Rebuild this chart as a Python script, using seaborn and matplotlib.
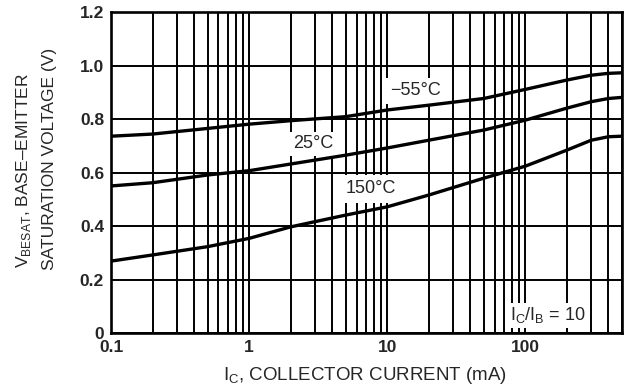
import matplotlib
matplotlib.use('Agg')
import matplotlib.pyplot as plt
import matplotlib.ticker as mticker
import numpy as np
import pandas as pd
import seaborn as sns

# 데이터
ic_ma = [0.1, 0.2, 0.5, 1, 2, 5, 10, 20, 50, 100, 200, 300, 400, 500]
vbe_m55 = [0.736, 0.744, 0.765, 0.781, 0.794, 0.809, 0.834, 0.852, 0.877, 0.911, 0.946, 0.964, 0.971, 0.973]
vbe_25 = [0.550, 0.562, 0.591, 0.607, 0.632, 0.665, 0.692, 0.721, 0.759, 0.796, 0.841, 0.865, 0.877, 0.881]
vbe_150 = [0.269, 0.292, 0.323, 0.354, 0.397, 0.441, 0.472, 0.516, 0.579, 0.624, 0.684, 0.721, 0.734, 0.736]
temps = ['−55°C', '25°C', '150°C']
xtick_vals = [0.1, 1, 10, 100]
xtick_labels = ['0.1', '1', '10', '100']
ytick_vals = [0, 0.2, 0.4, 0.6, 0.8, 1.0, 1.2]
ytick_labels = ['0', '0.2', '0.4', '0.6', '0.8', '1.0', '1.2']

df = pd.DataFrame({
    'ic': ic_ma * 3,
    'vbe': vbe_m55 + vbe_25 + vbe_150,
    'temp': sum([[t] * len(ic_ma) for t in temps], []),
})

sns.set_theme(style='white')
plt.rcParams['font.family'] = ['Liberation Sans', 'DejaVu Sans']
plt.rcParams['mathtext.fontset'] = 'custom'
plt.rcParams['mathtext.rm'] = 'Liberation Sans'

fig = plt.figure(figsize=(6.25, 3.9), dpi=100)
ax = fig.add_axes([0.1776, 0.146, 0.8174, 0.823])

sns.lineplot(data=df, x='ic', y='vbe', hue='temp', palette=['black'] * 3,
             linewidth=2.4, legend=False, ax=ax, zorder=5)

ax.set_xscale('log')
ax.set_xlim(0.1, 500)
ax.set_ylim(0, 1.2)

# 격자
grid_x = [m * 10.0 ** e for e in range(-1, 3) for m in range(1, 10)]
grid_x = [g for g in grid_x if g <= 500]
ax.xaxis.set_major_locator(mticker.FixedLocator(xtick_vals))
ax.xaxis.set_minor_locator(mticker.FixedLocator([g for g in grid_x if g not in xtick_vals]))
ax.xaxis.set_major_formatter(mticker.FixedFormatter(xtick_labels))
ax.xaxis.set_minor_formatter(mticker.NullFormatter())
ax.yaxis.set_major_locator(mticker.FixedLocator(ytick_vals))
ax.yaxis.set_major_formatter(mticker.FixedFormatter(ytick_labels))
ax.grid(True, which='both', axis='x', color='black', linewidth=1.4)
ax.grid(True, which='major', axis='y', color='black', linewidth=1.4)

ax.tick_params(axis='both', which='both', direction='in', length=4, width=1.4,
               color='black', labelsize=12.5, pad=5)
ax.tick_params(axis='y', which='both', length=0, pad=5)
for lab in ax.get_xticklabels() + ax.get_yticklabels():
    lab.set_fontweight('bold')
for sp in ax.spines.values():
    sp.set_color('black')
    sp.set_linewidth(1.9)
    sp.set_zorder(6)

ax.set_xlabel('')
ax.set_ylabel('')

# 곡선 라벨 (흰 배경)
ax.text(16, 0.905, '−55°C', fontsize=13, ha='center', va='center', zorder=4,
        bbox=dict(facecolor='white', edgecolor='none', pad=3.5))
ax.text(2.9, 0.707, '25°C', fontsize=13, ha='center', va='center', zorder=4,
        bbox=dict(facecolor='white', edgecolor='none', pad=2.5))
ax.text(7.6, 0.54, '150°C', fontsize=13, ha='center', va='center', zorder=4,
        bbox=dict(facecolor='white', edgecolor='none', pad=4))
ax.text(145, 0.066, r'I$_\mathregular{C}$/I$_\mathregular{B}$ = 10', fontsize=13,
        ha='center', va='center', zorder=4,
        bbox=dict(facecolor='white', edgecolor='none', pad=2))

fig.text(0.584, 0.037, r'I$_\mathregular{C}$, COLLECTOR CURRENT (mA)', fontsize=13.5,
         ha='center', va='center')
fig.text(0.037, 0.562, r'V$_\mathregular{BESAT}$, BASE–EMITTER', fontsize=12.5,
         rotation=90, ha='center', va='center')
fig.text(0.080, 0.592, 'SATURATION VOLTAGE (V)', fontsize=12.5,
         rotation=90, ha='center', va='center')

fig.savefig('out.png', dpi=100)
